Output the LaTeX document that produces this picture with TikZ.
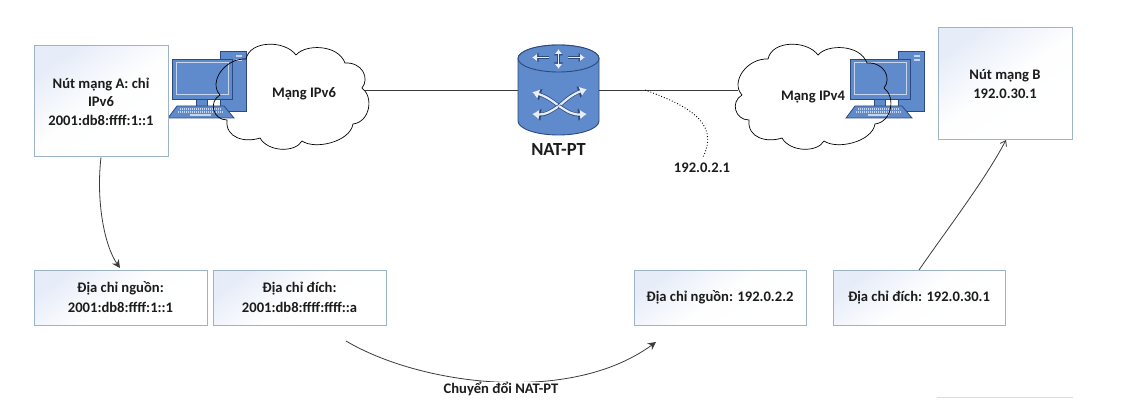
\documentclass[tikz,border=0pt]{standalone}
\usepackage{fontspec}
\setmainfont{Carlito}
\usetikzlibrary{arrows.meta}
\definecolor{edge}{HTML}{9DB4C8}
\definecolor{tint}{HTML}{E6ECF8}
\definecolor{pcblue}{HTML}{5F8ACB}
\definecolor{pcdark}{HTML}{2C4A7E}
\definecolor{pclight}{HTML}{C5D6EE}
\definecolor{ink}{HTML}{1C1C1C}
\definecolor{wire}{HTML}{3A3A3A}
\definecolor{remnant}{HTML}{CFE0E6}
\tikzset{
  infobox/.style={draw=edge,line width=1pt,left color=tint,right color=white,middle color=white!96!tint,shading angle=35,align=center,font=\bfseries\fontsize{14.6}{18.5}\selectfont,text=ink,inner sep=0pt},
  lbl/.style={align=center,font=\bfseries\fontsize{14.6}{18.5}\selectfont,text=ink,inner sep=0pt},
  link/.style={draw=wire,line width=0.9pt},
  curved/.style={draw=wire,line width=0.8pt},
  cloudline/.style={draw=black,line width=0.7pt},
  pcpart/.style={fill=pcblue,draw=pcdark,line width=0.8pt},
  headfilled/.style={-{Stealth[length=8pt,width=8pt]}},
  headopen/.style={-{Straight Barb[length=5pt,width=7pt]}}
}
\newcommand{\pcicon}[2]{%
\begin{scope}[shift={(#1,#2)}]
  \path[pcpart] (220,51) rectangle (246,111);
  \fill[pclight] (236,55) rectangle (242,57);
  \fill[pclight] (236,59) rectangle (242,61);
  \path[pcpart] (172,59) rectangle (232,99);
  \draw[pclight,line width=1pt] (176,63) rectangle (228,95);
  \path[pcpart] (196,99) rectangle (207,106);
  \path[pcpart] (177,106) -- (224,106) -- (234,118) -- (168,118) -- cycle;
  \draw[pclight,line width=1.4pt,dash pattern=on 1.2pt off 0.8pt] (180,109) -- (221,109);
  \draw[pclight,line width=1.4pt,dash pattern=on 1.2pt off 0.8pt] (178,112) -- (223,112);
  \draw[pclight,line width=1.2pt] (190,115) -- (211,115);
\end{scope}}
\newcommand{\cloudshape}[2]{%
\begin{scope}[shift={(#1,#2)}]
  \path[cloudline] (246,59) .. controls (250,40) and (285,40) .. (296,55)
    .. controls (305,44) and (338,44) .. (345,63)
    .. controls (362,62) and (370,78) .. (362,88)
    .. controls (374,97) and (370,122) .. (353,124)
    .. controls (350,142) and (315,150) .. (302,141)
    .. controls (295,153) and (268,152) .. (260,138)
    .. controls (245,143) and (225,138) .. (227,120)
    .. controls (213,120) and (208,102) .. (220,95)
    .. controls (208,82) and (225,58) .. (246,59) -- cycle;
\end{scope}}
\newcommand{\hollowarrow}[1]{%
  \draw[pcdark,line width=3.6pt,-{Latex[length=9pt,width=13pt]}] #1;
  \draw[white!85!pcblue,line width=2.2pt,-{Latex[length=7pt,width=10pt]}] #1;}
\newcommand{\hollowsmall}[1]{%
  \draw[pcdark,line width=2.8pt,-{Latex[length=6.5pt,width=10pt]}] #1;
  \draw[white!85!pcblue,line width=1.5pt,-{Latex[length=5pt,width=7.6pt]}] #1;}
\begin{document}
\begin{tikzpicture}[x=1pt,y=-1pt]
\useasboundingbox (0,0) rectangle (1124,406);
% computers and clouds
\pcicon{0}{0}
\pcicon{678}{0}
\cloudshape{0}{0}
\cloudshape{522}{0}
\node[lbl] (netsix) at (304,94) {Mạng IPv6};
\node[lbl] (netfour) at (813,97) {Mạng IPv4};
% boxes
\node[infobox,minimum width=134pt,minimum height=111pt] (nodea) at (101,101.5) {Nút mạng A: chỉ\\IPv6\\2001:db8:ffff:1::1};
\node[infobox,minimum width=134pt,minimum height=112pt] (nodeb) at (1005,84) {Nút mạng B\\192.0.30.1};
\node[infobox,minimum width=173pt,minimum height=55pt,font=\bfseries\fontsize{14.6}{20}\selectfont] (srcsix) at (120.5,297.5) {Địa chỉ nguồn:\\2001:db8:ffff:1::1};
\node[infobox,minimum width=173pt,minimum height=55pt,font=\bfseries\fontsize{14.6}{20}\selectfont] (dstsix) at (299.5,297.5) {Địa chỉ đích:\\2001:db8:ffff:ffff::a};
\node[infobox,minimum width=172pt,minimum height=55pt] (srcfour) at (720,297.5) {Địa chỉ nguồn: 192.0.2.2};
\node[infobox,minimum width=172pt,minimum height=55pt] (dstfour) at (919,297.5) {Địa chỉ đích: 192.0.30.1};
% router
\node[minimum width=81pt,minimum height=90pt,inner sep=0pt] (nat) at (558.5,90) {};
\path[pcpart,line width=0.9pt] (518,58.5) -- (518,121) arc[start angle=180,end angle=360,x radius=40.5pt,y radius=14pt] -- (599,58.5) arc[start angle=0,end angle=-180,x radius=40.5pt,y radius=-13.5pt] -- cycle;
\path[pcpart,line width=0.9pt] (558.5,58.5) ellipse[x radius=40.5pt,y radius=13.5pt];
\hollowsmall{(549,57.5) -- (532,57.5)}
\hollowsmall{(568,57.5) -- (585,57.5)}
\hollowsmall{(558.5,58) -- (558.5,49)}
\hollowsmall{(558.5,58) -- (558.5,69)}
\hollowarrow{(559,106) .. controls (550,99) and (545,96) .. (532,92)}
\hollowarrow{(559,106) .. controls (568,98) and (573,94) .. (587,89)}
\hollowarrow{(559,106) .. controls (550,112) and (545,115) .. (532,114)}
\hollowarrow{(559,106) .. controls (568,112) and (573,115) .. (587,114)}
\node[font=\bfseries\fontsize{18.5}{20}\selectfont,text=ink,inner sep=0pt] (natlabel) at (558.5,150) {NAT-PT};
% links
\coordinate (cloudsixeast) at (365,90);
\coordinate (cloudfourwest) at (738,90);
\draw[link] (cloudsixeast) -- (nat.west);
\draw[link] (nat.east) -- (cloudfourwest);
% dotted leader
\coordinate (tap) at (645,90);
\node[lbl] (gateway) at (702,168) {192.0.2.1};
\draw[black,line width=0.9pt,dotted] (tap) .. controls (680,103) and (722,120) .. (703,157);
% curved arrows
\coordinate (aout) at ([xshift=0pt]nodea.south);
\coordinate (srcin) at (120,268);
\draw[curved,headfilled] (aout) .. controls (96,200) and (104,245) .. (srcin);
\coordinate (bout) at (919,270);
\coordinate (bin) at (1006,140);
\draw[curved,headopen] (bout) .. controls (948,228) and (985,180) .. (bin);
\coordinate (convfrom) at (346,341);
\coordinate (convto) at (656,342);
\draw[curved,headfilled] (convfrom) .. controls (420,385) and (570,405) .. (convto);
\node[lbl,fill=white,inner xsep=1pt,inner ysep=0pt] (conv) at (501,389) {Chuyển đổi NAT-PT};
% faint remnant at the lower right
\draw[draw=remnant,line width=1pt] (937,397) -- (1073,397);
\end{tikzpicture}
\end{document}
